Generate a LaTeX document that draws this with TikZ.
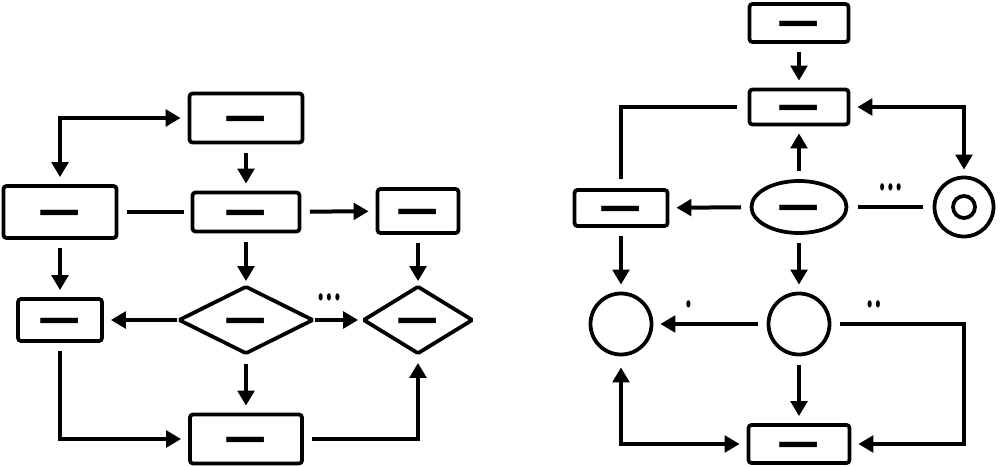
\documentclass[tikz,border=0pt]{standalone}
\usepackage{fontspec}
\usepackage{tikz}
\usetikzlibrary{arrows.meta,positioning,shapes.geometric}
\newfontfamily\dashfont{DejaVu Sans}

\begin{document}
\begin{tikzpicture}[x=0.2mm,y=-0.2mm,
  every node/.style={line width=0.75mm},
  flowbox/.style={draw, rounded corners=0.6mm, inner sep=0pt,
    text height=14.5pt, text depth=0pt,
    font=\dashfont\bfseries\fontsize{24}{24}\selectfont},
  decide/.style={flowbox, diamond, rounded corners=0.3mm},
  blob/.style={flowbox, ellipse},
  ring/.style={draw, circle, inner sep=0pt},
  wire/.style={line width=0.8mm, shorten <=1.7mm, shorten >=1.4mm},
  flow/.style={wire, -{Triangle[length=3mm,width=3.3mm]}},
  twoway/.style={wire, shorten <=1.4mm,
    {Triangle[length=3mm,width=3.3mm]}-{Triangle[length=3mm,width=3.3mm]}},
  dots/.style={inner sep=0pt, font=\dashfont\fontsize{10}{10}\selectfont}]
\useasboundingbox (0,0) rectangle (1000,467);

% left chart
\node[flowbox, minimum width=22.6mm, minimum height=9.8mm] (start) at (246,118) {—};
\node[flowbox, minimum width=22.6mm, minimum height=10.4mm] (west) at (60,212) {—};
\node[flowbox, minimum width=21.4mm, minimum height=7.8mm] (mid) at (246,212) {—};
\node[flowbox, minimum width=16.2mm, minimum height=8.8mm] (east) at (418,211) {—};
\node[flowbox, minimum width=16.8mm, minimum height=8.4mm] (aside) at (60,320) {—};
\node[decide, minimum width=27mm, minimum height=13.6mm] (ask) at (246,320) {—};
\node[decide, minimum width=22mm, minimum height=13.6mm] (check) at (418,320) {—};
\node[flowbox, minimum width=22.4mm, minimum height=9.8mm] (finish) at (246,439) {—};

\draw[twoway] (start.west) -| (west.north);
\draw[flow] (start) -- (mid);
\draw[wire] (west) -- (mid);
\draw[flow] (mid) -- (east);
\draw[flow] (west) -- (aside);
\draw[flow, shorten >=0.6mm] (mid) -- (ask);
\draw[flow, shorten >=0.6mm] (east) -- (check);
\draw[flow, shorten <=0pt] (ask) -- (aside);
\draw[flow, shorten <=0pt, shorten >=0.6mm] (ask) -- node[dots, above=2.4mm, pos=0.3] {\scalebox{0.8}[1.4]{•••}} (check);
\draw[flow] (ask) -- (finish);
\draw[flow] (aside) |- (finish);
\draw[flow] (finish) -| (check);

% right chart
\node[flowbox, minimum width=19.8mm, minimum height=7.6mm] (source) at (799,23) {—};
\node[flowbox, minimum width=19.8mm, minimum height=7mm] (hub) at (799,107) {—};
\node[flowbox, minimum width=18.6mm, minimum height=7.2mm] (branch) at (621,208) {—};
\node[blob, minimum width=19mm, minimum height=10.4mm] (core) at (799,207) {—};
\node[ring, minimum size=11.8mm] (target) at (964,207) {};
\node[ring, minimum size=4.4mm] (targetin) at (target) {};
\node[ring, minimum size=12.2mm] (leftstop) at (621,324) {};
\node[ring, minimum size=12.2mm] (rightstop) at (799,324) {};
\node[flowbox, minimum width=20.2mm, minimum height=7.6mm] (sink) at (799,444) {—};

\draw[flow] (source) -- (hub);
\draw[wire, shorten <=2.2mm, shorten >=1.8mm] (hub) -| (branch);
\draw[flow] (core) -- (hub);
\draw[flow] (core) -- (branch);
\draw[twoway, shorten >=1.2mm] (hub) -| (target);
\draw[wire, shorten <=2mm, shorten >=2mm] (core) -- node[dots, above=1.8mm] {\scalebox{0.8}[1.4]{•••}} (target);
\draw[flow] (branch) -- (leftstop);
\draw[flow] (core) -- (rightstop);
\draw[flow] (rightstop) -- node[dots, above=1.8mm, pos=0.69] {\scalebox{0.8}[1.4]{•}} (leftstop);
\draw[flow] (rightstop) -- node[dots, above=1.8mm, pos=0.32] {\scalebox{0.8}[1.4]{••}} (target |- rightstop) |- (sink);
\draw[flow] (rightstop) -- (sink);
\draw[twoway, shorten <=2.2mm] (leftstop) |- (sink);
\end{tikzpicture}
\end{document}
